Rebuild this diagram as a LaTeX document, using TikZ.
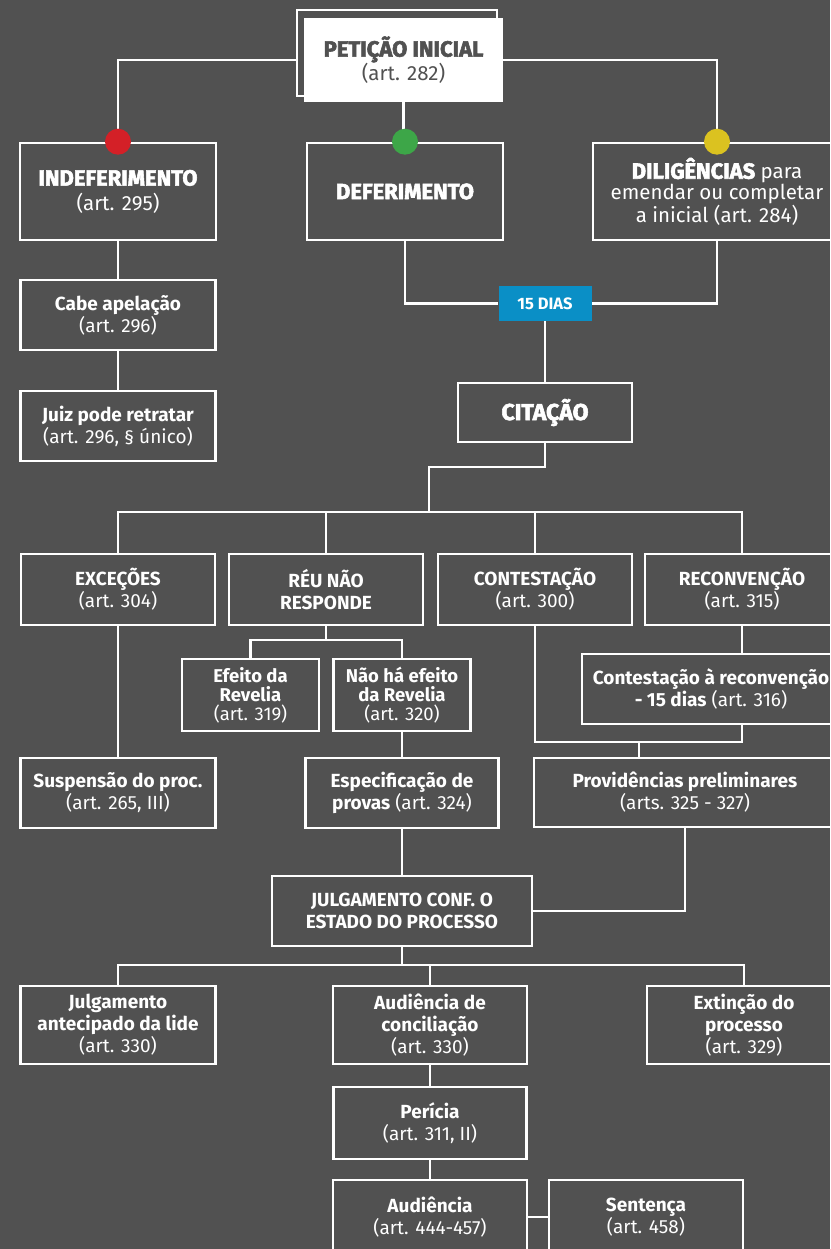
\documentclass[tikz,border=0pt]{standalone}
\usepackage{fontspec}
\setmainfont{Fira Sans}
\newfontfamily\heavyfont[FakeBold=2.5]{Fira Sans}
\definecolor{bggray}{HTML}{515151}
\definecolor{dotred}{HTML}{D42027}
\definecolor{dotgreen}{HTML}{3DA648}
\definecolor{dotyellow}{HTML}{DBC220}
\definecolor{diasblue}{HTML}{0A8FC6}
\tikzset{
  box/.style={draw=white,line width=2.6pt,text=white,align=center,inner sep=0pt,
    font=\fontsize{19}{22}\selectfont},
  link/.style={draw=white,line width=2.6pt},
  dot/.style={circle,inner sep=0pt,minimum size=26pt},
  big/.style={font=\fontsize{20.5}{19.5}\selectfont},
}
\newcommand{\hv}[1]{{\heavyfont\bfseries\fontsize{22}{22}\selectfont #1}}
\begin{document}
\begin{tikzpicture}[x=1pt,y=-1pt]
\useasboundingbox (0,0) rectangle (830,1249);
\fill[bggray] (0,0) rectangle (830,1249);
\clip (0,0) rectangle (830,1249);
% topo
\node[draw=white,line width=2pt,minimum width=200pt,minimum height=86pt] (petshadow) at (397,53) {};
\node[fill=white,text=bggray,align=center,minimum width=199pt,minimum height=84pt,
  font=\fontsize{20.5}{24}\selectfont] (pet) at (403.5,60) {\hv{PETIÇÃO INICIAL}\\(art. 282)};
\node[box,big,minimum width=196pt,minimum height=97pt] (indef) at (118,191.5) {\hv{INDEFERIMENTO}\\[5pt](art. 295)};
\node[box,big,minimum width=196pt,minimum height=97pt] (def) at (405,191.5) {\hv{DEFERIMENTO}};
\node[box,big,minimum width=248pt,minimum height=97pt] (dil) at (717,191.5) {\hv{DILIGÊNCIAS} para\\emendar ou completar\\a inicial (art. 284)};
\draw[link] (indef.north) |- (pet.west -| petshadow.west);
\draw[link] (pet.east) -| (dil.north);
\draw[link] (pet.south) -- (pet.south |- def.north);
\node[dot,fill=dotred] (reddot) at (indef.north) {};
\node[dot,fill=dotgreen] (greendot) at (def.north) {};
\node[dot,fill=dotyellow] (yellowdot) at (dil.north) {};
% indeferimento
\node[box,minimum width=195pt,minimum height=70pt] (apel) at (118,315) {\textbf{Cabe apelação}\\(art. 296)};
\node[box,minimum width=195pt,minimum height=70pt] (juiz) at (118,426) {\textbf{Juiz pode retratar}\\(art. 296, § único)};
\draw[link] (indef.south) -- (apel.north);
\draw[link] (apel.south) -- (juiz.north);
% prazo e citacao
\node[fill=diasblue,text=white,minimum width=93pt,minimum height=35pt,inner sep=0pt,
  font=\fontsize{16.5}{16.5}\selectfont\bfseries] (dias) at (545,303.5) {15 DIAS};
\node[box,minimum width=174pt,minimum height=59pt] (cit) at (545,412.5) {{\heavyfont\bfseries\fontsize{23}{23}\selectfont CITAÇÃO}};
\draw[link] (def.south) |- (dias.west);
\draw[link] (dil.south) |- (dias.east);
\draw[link] (dias.south) -- (cit.north);
% respostas do reu
\node[box,minimum width=194pt,minimum height=71pt] (exc) at (118,589.5) {\textbf{EXCEÇÕES}\\(art. 304)};
\node[box,minimum width=194pt,minimum height=71pt] (reu) at (326,589.5) {\textbf{RÉU NÃO}\\\textbf{RESPONDE}};
\node[box,minimum width=194pt,minimum height=71pt] (cont) at (535,589.5) {\textbf{CONTESTAÇÃO}\\(art. 300)};
\node[box,minimum width=194pt,minimum height=71pt] (recon) at (742,589.5) {\textbf{RECONVENÇÃO}\\(art. 315)};
\coordinate (citbend) at (429,467);
\coordinate (citfork) at (429,512);
\draw[link] (cit.south) |- (citbend) -- (citfork);
\draw[link] (exc.north) |- (recon.north |- citfork) -- (recon.north);
\draw[link] (reu.north) -- (reu.north |- citfork);
\draw[link] (cont.north) -- (cont.north |- citfork);
% revelia
\node[box,minimum width=137pt,minimum height=72pt,font=\fontsize{18.5}{19}\selectfont] (efeito) at (250.5,695) {\textbf{Efeito da}\\\textbf{Revelia}\\(art. 319)};
\node[box,minimum width=137pt,minimum height=72pt,font=\fontsize{18.5}{19}\selectfont] (naoha) at (402,695) {\textbf{Não há efeito}\\\textbf{da Revelia}\\(art. 320)};
\coordinate (reufork) at (326,640);
\draw[link] (reu.south) -- (reufork);
\draw[link] (efeito.north) |- (reufork) -| (naoha.north);
\node[box,minimum width=258pt,minimum height=70pt] (creconv) at (711,689) {\textbf{Contestação à reconvenção}\\\textbf{- 15 dias} (art. 316)};
\draw[link] (recon.south) -- (recon.south |- creconv.north);
% terceira linha
\node[box,minimum width=195pt,minimum height=70pt] (susp) at (118,793) {\textbf{Suspensão do proc.}\\(art. 265, III)};
\node[box,minimum width=193pt,minimum height=70pt] (espec) at (402,793) {\textbf{Especificação de}\\\textbf{provas} (art. 324)};
\node[box,minimum width=302pt,minimum height=69pt] (prov) at (685,792.5) {\textbf{Providências preliminares}\\(arts. 325 - 327)};
\coordinate (contfork) at (639,742);
\draw[link] (exc.south) -- (susp.north);
\draw[link] (naoha.south) -- (espec.north);
\draw[link] (cont.south) |- (contfork) -| (recon.south |- creconv.south);
\draw[link] (contfork) -- (contfork |- prov.north);
% julgamento
\node[box,minimum width=260pt,minimum height=70pt] (julg) at (402,911) {\textbf{JULGAMENTO CONF. O}\\\textbf{ESTADO DO PROCESSO}};
\draw[link] (espec.south) -- (julg.north);
\draw[link] (prov.south) |- (julg.east);
\node[box,minimum width=195pt,minimum height=78pt] (jant) at (118,1025) {\textbf{Julgamento}\\\textbf{antecipado da lide}\\(art. 330)};
\node[box,minimum width=194pt,minimum height=78pt] (aconc) at (430,1025) {\textbf{Audiência de}\\\textbf{conciliação}\\(art. 330)};
\node[box,minimum width=194pt,minimum height=78pt] (ext) at (744,1025) {\textbf{Extinção do}\\\textbf{processo}\\(art. 329)};
\coordinate (julgfork) at (402,965);
\draw[link] (julg.south) -- (julgfork);
\draw[link] (jant.north) |- (julgfork) -| (ext.north);
\draw[link] (aconc.north) -- (aconc.north |- julgfork);
% pericia e audiencia
\node[box,minimum width=193pt,minimum height=72pt] (pericia) at (430,1123) {\textbf{Perícia}\\(art. 311, II)};
\node[box,minimum width=194pt,minimum height=74pt] (aud) at (430,1217) {\textbf{Audiência}\\(art. 444-457)};
\node[box,minimum width=194pt,minimum height=74pt] (sent) at (646,1217) {\textbf{Sentença}\\(art. 458)};
\draw[link] (aconc.south) -- (pericia.north);
\draw[link] (pericia.south) -- (aud.north);
\draw[link] (aud.east) -- (sent.west);
\end{tikzpicture}
\end{document}
